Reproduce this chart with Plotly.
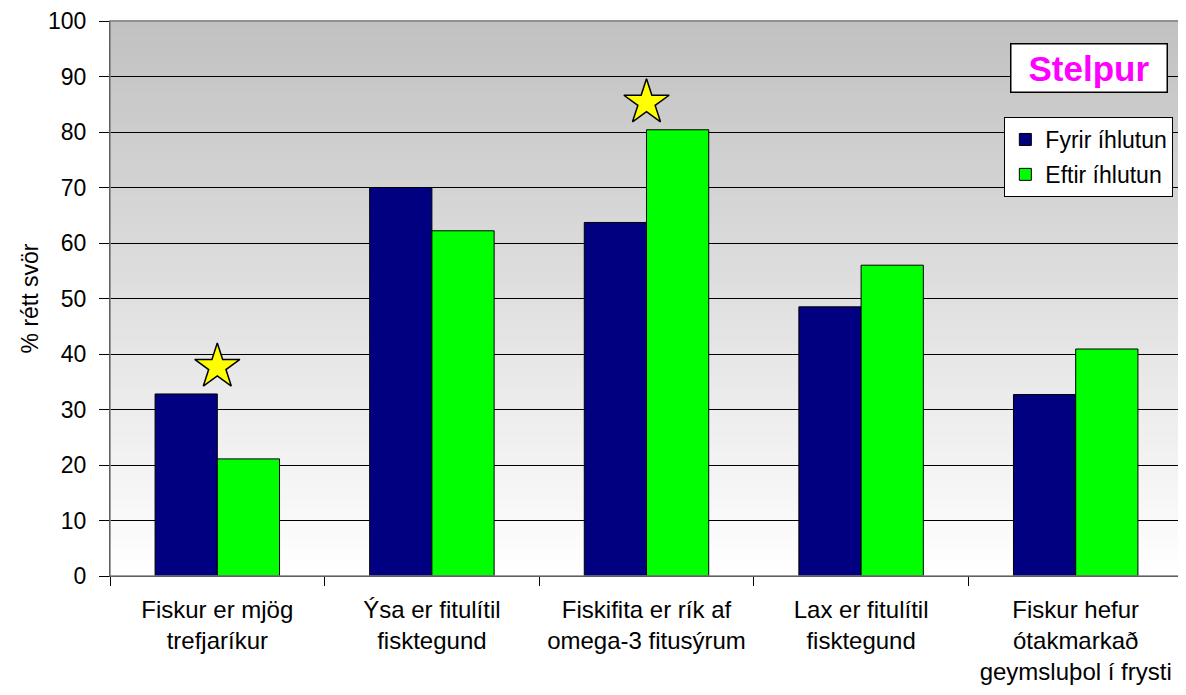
import plotly.graph_objects as go

CATEGORIES = [
    "Fiskur er mjög<br>trefjaríkur",
    "Ýsa er fitulítil<br>fisktegund",
    "Fiskifita er rík af<br>omega-3 fitusýrum",
    "Lax er fitulítil<br>fisktegund",
    "Fiskur hefur<br>ótakmarkað<br>geymsluþol í frysti",
]
FYRIR = [32.8, 70.0, 63.7, 48.5, 32.7]
EFTIR = [21.1, 62.2, 80.4, 56.0, 40.9]
STAR_CATEGORIES = [CATEGORIES[0], CATEGORIES[2]]
STAR_Y = [37.7, 85.3]
Y_TICKS = list(range(0, 101, 10))

FONT = "Liberation Sans, Arial, sans-serif"

fig = go.Figure()
fig.add_trace(
    go.Bar(
        x=CATEGORIES,
        y=FYRIR,
        name="Fyrir íhlutun",
        legendgroup="a",
        marker={"color": "#000080", "line": {"color": "#000000", "width": 1}},
    )
)
fig.add_trace(
    go.Bar(
        x=CATEGORIES,
        y=EFTIR,
        name="Eftir íhlutun",
        legendgroup="b",
        marker={"color": "#00ff00", "line": {"color": "#000000", "width": 1}},
    )
)
fig.add_trace(
    go.Scatter(
        x=STAR_CATEGORIES,
        y=STAR_Y,
        mode="markers",
        marker={
            "symbol": "star",
            "size": 34,
            "color": "#ffff00",
            "line": {"color": "#000000", "width": 1.5},
        },
        showlegend=False,
        hoverinfo="skip",
    )
)

# vertical grey -> white gradient behind the plot area
shapes = []
n_bands = 80
for i in range(n_bands):
    t = i / (n_bands - 1)
    g = int(round(255 - (255 - 193) * t))
    shapes.append(
        {
            "type": "rect",
            "xref": "paper",
            "yref": "paper",
            "x0": 0,
            "x1": 1,
            "y0": i / n_bands,
            "y1": (i + 1) / n_bands + 0.002,
            "fillcolor": f"rgb({g},{g},{g})",
            "line": {"width": 0},
            "layer": "below",
        }
    )
shapes.append(
    {
        "type": "rect",
        "xref": "paper",
        "yref": "paper",
        "x0": 0,
        "x1": 1,
        "y0": 0,
        "y1": 1,
        "line": {"color": "#808080", "width": 1.5},
        "layer": "above",
    }
)

fig.add_annotation(
    x=0.912,
    y=0.916,
    xref="paper",
    yref="paper",
    xanchor="center",
    yanchor="middle",
    text="<b>Stelpur</b>",
    showarrow=False,
    font={"family": FONT, "size": 35, "color": "#ff00ff"},
    bgcolor="#ffffff",
    bordercolor="#000000",
    borderwidth=1.5,
    borderpad=2,
    width=151,
    height=43,
)

# the page body has an 8px margin, so the figure is sized/offset to compensate
fig.update_layout(
    width=1178,
    height=687,
    paper_bgcolor="#ffffff",
    plot_bgcolor="rgba(0,0,0,0)",
    margin={"l": 102, "r": 3, "t": 13, "b": 119, "autoexpand": False},
    barmode="group",
    bargap=0.42,
    bargroupgap=0,
    font={"family": FONT, "size": 24, "color": "#000000"},
    shapes=shapes,
    legend={
        "x": 0.991,
        "y": 0.827,
        "xanchor": "right",
        "yanchor": "top",
        "bgcolor": "#ffffff",
        "bordercolor": "#000000",
        "borderwidth": 1,
        "font": {"family": FONT, "size": 23, "color": "#000000"},
        "tracegroupgap": 2,
        "itemwidth": 30,
    },
    xaxis={
        "type": "category",
        "automargin": False,
        "tickson": "boundaries",
        "ticks": "outside",
        "ticklen": 9,
        "tickcolor": "#000000",
        "showgrid": False,
        "showline": True,
        "linecolor": "#000000",
        "linewidth": 1,
        "ticklabelstandoff": 12,
        "tickfont": {"family": FONT, "size": 24, "color": "#000000"},
    },
    yaxis={
        "range": [0, 100],
        "automargin": False,
        "tickvals": Y_TICKS,
        "ticks": "outside",
        "ticklen": 10,
        "tickcolor": "#000000",
        "showgrid": True,
        "gridcolor": "#000000",
        "gridwidth": 1,
        "showline": True,
        "linecolor": "#000000",
        "linewidth": 1,
        "zeroline": False,
        "ticklabelstandoff": 8,
        "tickfont": {"family": FONT, "size": 23, "color": "#000000"},
        "title": {"text": "% rétt svör", "font": {"family": FONT, "size": 23}, "standoff": 2},
    },
)

fig.write_html("out.html")
